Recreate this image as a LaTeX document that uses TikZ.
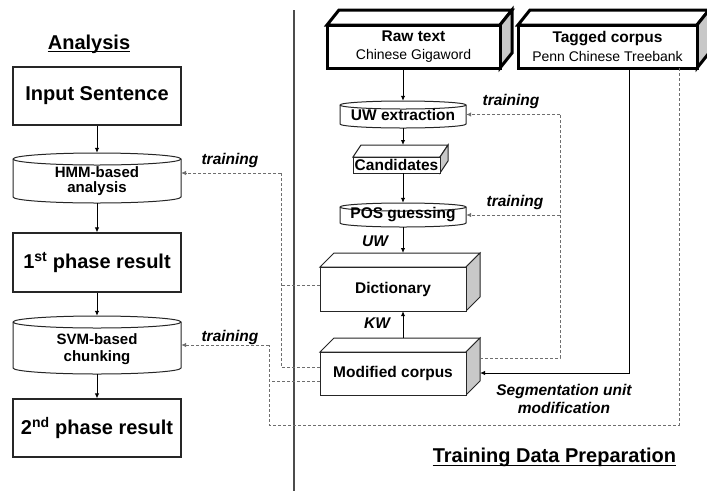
\documentclass[tikz,border=0pt]{standalone}
\usepackage{fontspec}
\setmainfont{Liberation Sans}
\usetikzlibrary{arrows.meta,calc}
\definecolor{sidegray}{RGB}{200,200,200}
\definecolor{dashgray}{RGB}{110,110,110}
\newcommand\myfs[1]{\fontsize{#1}{#1}\selectfont}
\newcommand\cyldraw[5]{%
  \pgfmathsetmacro\crx{(#3-#1)/2}%
  \draw[cylline,fill=white] (#1,#2+#5) -- (#1,#4-#5)
    arc[start angle=180,end angle=360,x radius=\crx pt,y radius=#5 pt]
    -- (#3,#2+#5) arc[start angle=0,end angle=180,x radius=\crx pt,y radius=#5 pt] -- cycle;
  \draw[cylline] (#1,#2+#5) arc[start angle=180,end angle=360,x radius=\crx pt,y radius=#5 pt];
}
\newcommand\cubedraw[7]{%
  \draw[#7,fill=white] (#1,#2) -- (#1+#5,#2-#6) -- (#3+#5,#2-#6) -- (#3,#2) -- cycle;
  \draw[#7,fill=sidegray] (#3,#2) -- (#3+#5,#2-#6) -- (#3+#5,#4-#6) -- (#3,#4) -- cycle;
  \draw[#7,fill=white] (#1,#2) rectangle (#3,#4);
}
\tikzset{
  cylline/.style={draw=black!85,line width=1pt},
  thickbox/.style={draw=black,line width=3pt,line join=miter},
  thinbox/.style={draw=black!85,line width=1pt},
  big/.style={draw=black!85,line width=1.2pt,minimum width=168pt,minimum height=58pt,inner sep=0pt,font=\bfseries\myfs{20}},
  shp/.style={inner sep=0pt,align=center,font=\bfseries\myfs{15.5}},
  tlbl/.style={inner sep=0pt,align=center,font=\bfseries\itshape\myfs{15.5}},
  ttl/.style={inner sep=0pt,font=\bfseries\myfs{20}},
  arr/.style={-{Latex[length=5pt,width=4.5pt]}},
  dsh/.style={draw=dashgray,line width=0.9pt,dash pattern=on 3pt off 2pt},
  sepline/.style={draw=black!70,line width=1.4pt},
}
\begin{document}
\begin{tikzpicture}[x=1pt,y=-1pt]
\fill[white] (0,0) rectangle (707,491);
\useasboundingbox (0,0) rectangle (707,491);

% separator
\coordinate (sT) at (294,10);
\coordinate (sB) at (294,491);
\draw[sepline] (sT) -- (sB);

% outlines
\cyldraw{13}{153}{181}{203}{6}
\cyldraw{13}{316}{181}{374}{6}
\cyldraw{340}{101}{466}{128}{4}
\cyldraw{340}{203}{466}{227}{4}
\cubedraw{327}{25}{500}{68}{12}{15}{thickbox}
\cubedraw{518}{25}{697}{68}{12}{15}{thickbox}
\cubedraw{353}{157}{440}{173}{8}{12}{thinbox}
\cubedraw{320}{267}{466}{311}{14}{14}{thinbox}
\cubedraw{320}{352}{466}{395}{14}{14}{thinbox}

% left column
\node[big] (inp) at (97,96) {Input Sentence};
\node[shp,minimum width=168pt,minimum height=50pt,font=\bfseries\myfs{15}] (hmm) at (97,178) {\rule{0pt}{17pt}HMM-based\\analysis};
\node[big,minimum height=59pt] (p1) at (97,262.5) {1\textsuperscript{st} phase result};
\node[shp,minimum width=168pt,minimum height=58pt,font=\bfseries\myfs{15}] (svm) at (97,345) {\rule{0pt}{19pt}SVM-based\\[2pt]chunking};
\node[big] (p2) at (97,428) {2\textsuperscript{nd} phase result};

% right column
\node[shp,minimum width=173pt,minimum height=43pt] (raw) at (413.5,46.5) {Raw text\\[3pt]{\mdseries\myfs{14}Chinese Gigaword}};
\node[shp,minimum width=179pt,minimum height=43pt] (tag) at (607.5,46.5) {Tagged corpus\\[3pt]{\mdseries\myfs{14}Penn Chinese Treebank}};
\node[shp,minimum width=126pt,minimum height=27pt] (uw) at (403,114.5) {UW extraction};
\node[shp,minimum width=87pt,minimum height=16pt] (cand) at (396.5,165) {Candidates};
\node[shp,minimum width=126pt,minimum height=24pt] (pos) at (403,215) {POS guessing};
\node[shp,minimum width=146pt,minimum height=44pt] (dict) at (393,289) {Dictionary};
\node[shp,minimum width=146pt,minimum height=43pt] (mod) at (393,373.5) {Modified corpus};

% labels
\node[tlbl] (tr1) at (230,160) {training};
\node[tlbl] (tr2) at (230,337) {training};
\node[tlbl] (tr3) at (511,101) {training};
\node[tlbl] (tr4) at (515,202) {training};
\node[tlbl] (luw) at (375,241) {UW};
\node[tlbl] (lkw) at (377,323) {KW};
\node[tlbl] (seg) at (564,399) {Segmentation unit\\[3pt]modification};

% titles
\node[ttl,anchor=base] (an) at (89,49) {Analysis};
\draw[line width=1pt] ([yshift=-2pt]an.base west) -- ([yshift=-2pt]an.base east);
\node[ttl,anchor=base] (tdp) at (554.5,462.5) {Training Data Preparation};
\draw[line width=1pt] ([yshift=-2.5pt]tdp.base west) -- ([yshift=-2.5pt]tdp.base east);

% helper coordinates
\coordinate (candtop) at (403,145);
\coordinate (dicttop) at (403,253);
\coordinate (modtop) at (403,338);
\coordinate (ms1) at (480,358);
\coordinate (ms2) at (480,373);
\coordinate (ml1) at (320,367);
\coordinate (ml2) at (320,381);
\coordinate (dl1) at (320,285);
\coordinate (xR) at (560,0);
\coordinate (xL1) at (281,0);
\coordinate (xL2) at (269,0);
\coordinate (xS) at (629,0);
\coordinate (xT) at (679,0);
\coordinate (yB) at (0,425);
\coordinate (hA) at (181,173);

% solid arrows
\draw[arr,line width=1pt] (inp.south) -- (hmm.north);
\draw[arr,line width=1pt] (hmm.south) -- (p1.north);
\draw[arr,line width=1pt] (p1.south) -- (svm.north);
\draw[arr,line width=1pt] (svm.south) -- (p2.north);
\draw[arr,line width=1pt] (uw.north |- raw.south) -- (uw.north);
\draw[arr,line width=1pt] (uw.south) -- (candtop);
\draw[arr,line width=1pt] (uw.south |- cand.south) -- (pos.north);
\draw[arr,line width=1pt] (pos.south) -- (dicttop);
\draw[arr,line width=1pt] (modtop) -- (modtop |- dict.south);
\draw[arr,line width=1pt] (tag.south -| xS) |- (ms2);

% dashed connectors
\draw[dsh] (ms1) -- (ms1 -| xR) -- (uw.east -| xR);
\draw[dsh,arr] (uw.east -| xR) -- (uw.east);
\draw[dsh,arr] (pos.east -| xR) -- (pos.east);
\draw[dsh] (ml1) -- (ml1 -| xL1) -- (hA -| xL1);
\draw[dsh,arr] (hA -| xL1) -- (hA);
\draw[dsh] (dl1) -- (dl1 -| xL1);
\draw[dsh] (tag.south -| xT) -- (xT |- yB) -- (yB -| xL2) -- (svm.east -| xL2);
\draw[dsh,arr] (svm.east -| xL2) -- (svm.east);
\draw[dsh] (ml2) -- (ml2 -| xL2);
\end{tikzpicture}
\end{document}
